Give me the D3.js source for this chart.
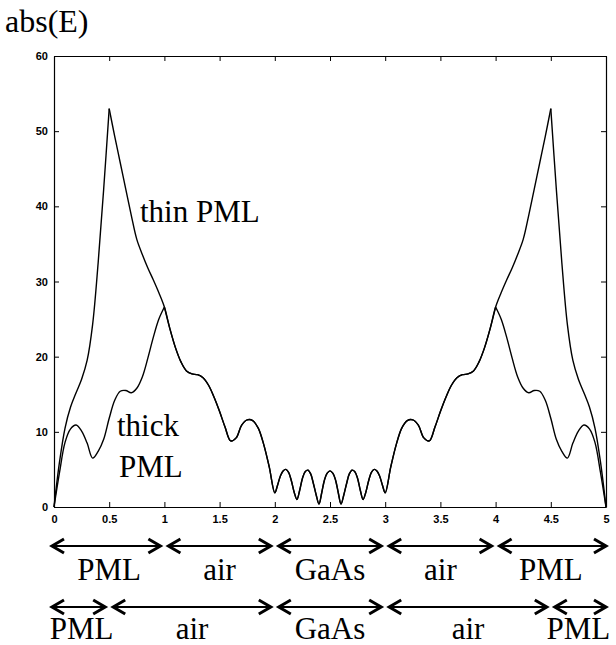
<!DOCTYPE html>
<html><head><meta charset="utf-8">
<script src="https://cdn.jsdelivr.net/npm/d3@7"></script>
<style>html,body{margin:0;padding:0;background:#fff;overflow:hidden}</style>
</head><body>
<svg id="chart" width="616" height="645"></svg>
<script>
// ---------------- data ----------------
const xTicks = [0, 0.5, 1, 1.5, 2, 2.5, 3, 3.5, 4, 4.5, 5];
const xTickLabels = ["0", "0.5", "1", "1.5", "2", "2.5", "3", "3.5", "4", "4.5", "5"];
const yTicks = [0, 10, 20, 30, 40, 50, 60];

// left PML side (x 0..1)
const xLeftSide = [0, 0.05, 0.1, 0.15, 0.2, 0.25, 0.3, 0.35, 0.4, 0.45, 0.5, 0.55, 0.6, 0.65, 0.7, 0.75, 0.8, 0.85, 0.9, 0.95, 1.0];
const thinLeft  = [0, 6.0, 10.5, 13.3, 15.2, 17.0, 19.5, 24.3, 32.5, 42.3, 53.0, 49.3, 45.8, 42.3, 38.8, 35.6, 33.6, 31.8, 30.2, 28.5, 26.6];
const thickLeft = [0, 4.6, 8.6, 10.4, 10.9, 10.1, 8.5, 6.5, 7.4, 9.0, 11.8, 14.2, 15.4, 15.5, 15.2, 15.8, 17.3, 19.8, 22.6, 25.0, 26.6];

// common part (x 1..4), both curves coincide
const xMid = [1.0, 1.05, 1.1, 1.15, 1.2, 1.25, 1.3, 1.35, 1.4, 1.45, 1.5, 1.55, 1.6, 1.65, 1.7, 1.75, 1.8, 1.85, 1.9, 1.95, 2.0,
  2.025, 2.05, 2.075, 2.1, 2.125, 2.15, 2.175, 2.2, 2.225, 2.25, 2.275, 2.3, 2.325, 2.35, 2.375, 2.4, 2.425, 2.45, 2.475, 2.5,
  2.525, 2.55, 2.575, 2.6, 2.625, 2.65, 2.675, 2.7, 2.725, 2.75, 2.775, 2.8, 2.825, 2.85, 2.875, 2.9, 2.925, 2.95, 2.975, 3.0,
  3.05, 3.1, 3.15, 3.2, 3.25, 3.3, 3.35, 3.4, 3.45, 3.5, 3.55, 3.6, 3.65, 3.7, 3.75, 3.8, 3.85, 3.9, 3.95, 4.0];
const midValues = [26.6, 23.7, 21.2, 19.3, 18.1, 17.7, 17.6, 17.2, 16.2, 14.6, 12.7, 10.6, 8.8, 9.2, 10.9, 11.6, 11.5, 10.5, 8.3, 5.3, 1.9,
  2.9, 4.1, 4.8, 5.0, 4.6, 3.5, 2.0, 1.0, 2.2, 3.8, 4.7, 4.9, 4.4, 3.1, 1.6, 0.4, 1.9, 3.6, 4.5, 4.8,
  4.5, 3.6, 1.9, 0.4, 1.6, 3.1, 4.4, 4.9, 4.7, 3.8, 2.2, 1.0, 2.0, 3.5, 4.6, 5.0, 4.8, 4.1, 2.9, 1.9,
  5.3, 8.3, 10.5, 11.5, 11.6, 10.9, 9.2, 8.8, 10.6, 12.7, 14.6, 16.2, 17.2, 17.6, 17.7, 18.1, 19.3, 21.2, 23.7, 26.6];

// right PML side (x 4..5)
const xRightSide = [4.0, 4.05, 4.1, 4.15, 4.2, 4.25, 4.3, 4.35, 4.4, 4.45, 4.5, 4.55, 4.6, 4.65, 4.7, 4.75, 4.8, 4.85, 4.9, 4.95, 5.0];
const thinRight  = [26.6, 28.5, 30.2, 31.8, 33.6, 35.6, 38.8, 42.3, 45.8, 49.3, 53.0, 42.3, 32.5, 24.3, 19.5, 17.0, 15.2, 13.3, 10.5, 6.0, 0];
const thickRight = [26.6, 25.0, 22.6, 19.8, 17.3, 15.8, 15.2, 15.5, 15.4, 14.2, 11.8, 9.0, 7.4, 6.5, 8.5, 10.1, 10.9, 10.4, 8.6, 4.6, 0];

// kinks (PML interfaces) of each curve
const thinCusps = [0.5, 4.5];
const thickCusps = [1.0, 4.0];

// region bars under the plot
const thickRegions = [0, 1, 2, 3, 4, 5];
const thickRegionLabels = ["PML", "air", "GaAs", "air", "PML"];
const thinRegions = [0, 0.5, 2, 3, 4.5, 5];
const thinRegionLabels = ["PML", "air", "GaAs", "air", "PML"];

// ---------------- layout ----------------
const svg = d3.select("#chart");
const L = 54, R = 606, T = 56, B = 507;
const x = d3.scaleLinear().domain([0, 5]).range([L, R]);
const y = d3.scaleLinear().domain([0, 60]).range([B, T]);

const serif = "'Liberation Serif','Times New Roman',serif";
const sans = "'Liberation Sans',Arial,sans-serif";

// title
svg.append("text").attr("x", 5).attr("y", 32)
  .style("font-family", serif).style("font-size", "32px").text("abs(E)");

// axes
function styleAxis(g, showLabels) {
  g.selectAll("path.domain").attr("stroke", "#000").attr("stroke-width", 1.2);
  g.selectAll(".tick line").attr("stroke", "#000").attr("stroke-width", 1);
  g.selectAll(".tick text").style("font-family", sans).style("font-size", "11px")
    .style("font-weight", "bold").attr("fill", "#000");
  if (!showLabels) g.selectAll(".tick text").remove();
}
svg.append("g").attr("transform", `translate(0,${B})`)
  .call(d3.axisBottom(x).tickValues(xTicks).tickFormat((d, i) => xTickLabels[i]).tickSize(-5).tickSizeOuter(0).tickPadding(8))
  .call(g => styleAxis(g, true));
svg.append("g").attr("transform", `translate(0,${T})`)
  .call(d3.axisTop(x).tickValues(xTicks).tickSize(-5).tickSizeOuter(0))
  .call(g => styleAxis(g, false));
svg.append("g").attr("transform", `translate(${L},0)`)
  .call(d3.axisLeft(y).tickValues(yTicks).tickSize(-5).tickSizeOuter(0).tickPadding(6))
  .call(g => styleAxis(g, true));
svg.append("g").attr("transform", `translate(${R},0)`)
  .call(d3.axisRight(y).tickValues(yTicks).tickSize(-5).tickSizeOuter(0))
  .call(g => styleAxis(g, false));

// curves
function joinSeries(xsList, vsList) {
  const pts = [];
  xsList.forEach((xs, k) => {
    xs.forEach((xv, i) => {
      if (pts.length && Math.abs(pts[pts.length - 1][0] - xv) < 1e-9) return;
      pts.push([xv, vsList[k][i]]);
    });
  });
  return pts;
}
function splitAt(pts, cusps) {
  const segs = [];
  let cur = [];
  pts.forEach(p => {
    cur.push(p);
    if (cusps.some(c => Math.abs(c - p[0]) < 1e-9)) {
      segs.push(cur);
      cur = [p];
    }
  });
  if (cur.length > 1) segs.push(cur);
  return segs;
}
const line = d3.line().x(d => x(d[0])).y(d => y(d[1])).curve(d3.curveCatmullRom.alpha(0.5));

const thinPts = joinSeries([xLeftSide, xMid, xRightSide], [thinLeft, midValues, thinRight]);
const thickPts = joinSeries([xLeftSide, xMid, xRightSide], [thickLeft, midValues, thickRight]);

[[thinPts, thinCusps], [thickPts, thickCusps]].forEach(([pts, cusps]) => {
  splitAt(pts, cusps).forEach(seg => {
    svg.append("path").attr("d", line(seg)).attr("fill", "none")
      .attr("stroke", "#000").attr("stroke-width", 1.4).attr("stroke-linejoin", "round");
  });
});

// curve annotations
svg.append("text").attr("x", 140).attr("y", 222)
  .style("font-family", serif).style("font-size", "31px").text("thin PML");
svg.append("text").attr("x", 117).attr("y", 436)
  .style("font-family", serif).style("font-size", "31px").text("thick");
svg.append("text").attr("x", 119).attr("y", 477)
  .style("font-family", serif).style("font-size", "31px").text("PML");

// region arrows
function arrow(x1, x2, yy) {
  const hl = 12, hh = 7;
  svg.append("line").attr("x1", x1 + 1).attr("x2", x2 - 1).attr("y1", yy).attr("y2", yy)
    .attr("stroke", "#000").attr("stroke-width", 2);
  svg.append("path").attr("d", `M${x1 + hl},${yy - hh}L${x1},${yy}L${x1 + hl},${yy + hh}`)
    .attr("fill", "none").attr("stroke", "#000").attr("stroke-width", 3).attr("stroke-linejoin", "miter");
  svg.append("path").attr("d", `M${x2 - hl},${yy - hh}L${x2},${yy}L${x2 - hl},${yy + hh}`)
    .attr("fill", "none").attr("stroke", "#000").attr("stroke-width", 3).attr("stroke-linejoin", "miter");
}
function regionRow(bounds, labels, arrowY, textY, fs) {
  for (let i = 0; i < labels.length; i++) {
    const a = x(bounds[i]), b = x(bounds[i + 1]);
    const x1 = i === 0 ? a - 2 : a + 4;
    const x2 = i === labels.length - 1 ? b : b - 4;
    arrow(x1, x2, arrowY);
    svg.append("text").attr("x", (a + b) / 2).attr("y", textY).attr("text-anchor", "middle")
      .style("font-family", serif).style("font-size", fs + "px").text(labels[i]);
  }
}
regionRow(thickRegions, thickRegionLabels, 546, 580, 31);
regionRow(thinRegions, thinRegionLabels, 607, 639, 31);
</script>
</body></html>
